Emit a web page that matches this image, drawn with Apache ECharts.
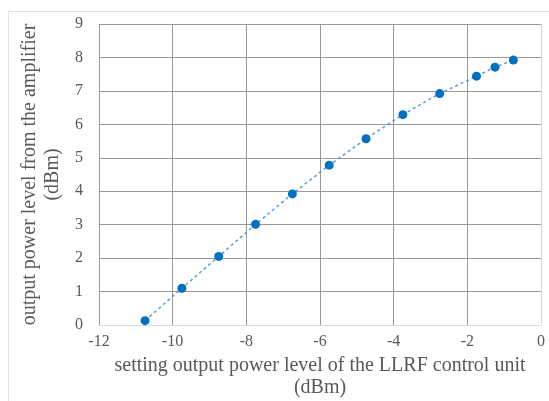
<!DOCTYPE html>
<html>
<head>
<meta charset="utf-8">
<script src="https://cdn.jsdelivr.net/npm/echarts@6/dist/echarts.min.js"></script>
<style>
  html, body { margin: 0; padding: 0; background: #fff; }
  #chart { width: 549px; height: 401px; }
</style>
</head>
<body>
<div id="chart"></div>
<script>
// setting level of LLRF unit (dBm) vs amplifier output (dBm)
const settingLevel = [-10.75, -9.75, -8.75, -7.75, -6.75, -5.75, -4.75, -3.75, -2.75, -1.75, -1.25, -0.75]
const outputLevel = [0.13, 1.1, 2.05, 3.01, 3.92, 4.78, 5.57, 6.29, 6.92, 7.44, 7.71, 7.92]

const xTitle = 'setting output power level of the LLRF control unit\n(dBm)'
const yTitle = 'output power level from the amplifier\n(dBm)'

const points = settingLevel.map((x, i) => [x, outputLevel[i]])

const chart = echarts.init(document.getElementById('chart'))

const textColor = '#595959'
const font = '"Liberation Serif", "DejaVu Serif", serif'

chart.setOption({
  backgroundColor: '#fff',
  animation: false,
  graphic: [
    {
      type: 'rect',
      shape: { x: 8.5, y: 11.5, width: 700, height: 600 },
      style: { fill: 'none', stroke: '#e3e3e3', lineWidth: 1 },
      silent: true,
    },
  ],
  grid: { left: 99, right: 8, top: 24, bottom: 76, outerBoundsMode: 'none', containLabel: false },
  xAxis: {
    type: 'value',
    min: -12,
    max: 0,
    interval: 2,
    name: xTitle,
    nameLocation: 'middle',
    nameGap: 23,
    nameTextStyle: { color: textColor, fontFamily: font, fontSize: 20, lineHeight: 22 },
    axisLine: { show: true, lineStyle: { color: '#d9d9d9' } },
    axisTick: { show: false },
    axisLabel: { color: textColor, fontFamily: font, fontSize: 16, margin: 9 },
    splitLine: { lineStyle: { color: '#999999', width: 1 } },
  },
  yAxis: {
    type: 'value',
    min: 0,
    max: 9,
    interval: 1,
    name: yTitle,
    nameLocation: 'middle',
    nameRotate: 90,
    nameGap: 34,
    nameTextStyle: { color: textColor, fontFamily: font, fontSize: 20, lineHeight: 23 },
    axisLine: { show: true, lineStyle: { color: '#d9d9d9' } },
    axisTick: { show: false },
    axisLabel: { color: textColor, fontFamily: font, fontSize: 16, margin: 16 },
    splitLine: { lineStyle: { color: '#999999', width: 1 } },
  },
  series: [
    {
      type: 'line',
      data: points,
      symbol: 'circle',
      symbolSize: 9,
      itemStyle: { color: '#0070c0' },
      lineStyle: { color: '#5b9bd5', width: 1.5, type: [3, 3] },
      z: 3,
    },
  ],
})

window.addEventListener('resize', () => chart.resize())
</script>
</body>
</html>
